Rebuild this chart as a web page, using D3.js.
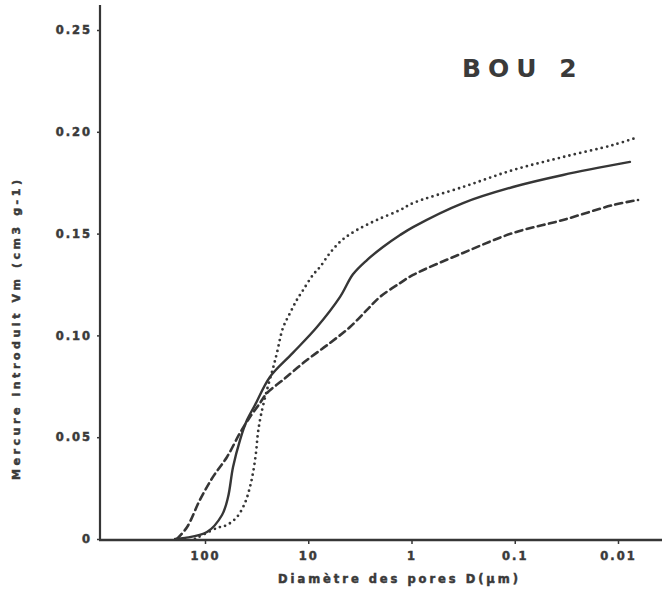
<!DOCTYPE html>
<html><head><meta charset="utf-8">
<script src="https://cdn.jsdelivr.net/npm/d3@7"></script>
<style>
html,body{margin:0;padding:0;background:#fff;}
svg{display:block;}
text{font-family:"DejaVu Sans",sans-serif;font-weight:bold;fill:#3a3a3a;}
</style></head>
<body>
<script>
// Diamètre des pores D (µm) and Mercure introduit Vm (cm3 g-1)
const solidD = [195,156,95.7,68.4,59.8,53.5,45.8,39.2,32.8,23.5,14.1,8.23,4.92,3.69,2.70,1.89,1.29,0.966,0.317,0.104,0.0341,0.00766];
const solidV = [0,0.0005,0.0034,0.0118,0.0206,0.0354,0.0486,0.0584,0.0658,0.0796,0.0914,0.1041,0.1189,0.1300,0.137,0.1434,0.1493,0.1532,0.165,0.1729,0.1788,0.1852];
const dottedD = [125,76.6,61.2,49.0,41.0,36.7,34.3,32.1,30.7,28.7,25.1,21.9,20.1,17.6,15.0,12.9,11.2,9.0,7.69,6.15,4.71,3.37,2.16,1.29,0.966,0.317,0.104,0.0341,0.0112,0.0064];
const dottedV = [0,0.0054,0.0069,0.0108,0.0177,0.0255,0.0324,0.0422,0.0521,0.0609,0.0732,0.084,0.0914,0.1036,0.111,0.1174,0.1223,0.1297,0.1336,0.1405,0.1468,0.1518,0.1567,0.1616,0.165,0.1729,0.1812,0.1876,0.1935,0.1974];
const dashedD = [187,149,112,83.7,61.2,45.8,36.7,29.3,25.1,17.6,10.3,6.15,3.94,2.70,2.02,1.29,0.966,0.317,0.104,0.0341,0.0112,0.0064];
const dashedV = [0,0.0059,0.0192,0.0305,0.0403,0.0521,0.0599,0.0668,0.0717,0.0781,0.0879,0.0963,0.1041,0.1125,0.1189,0.1257,0.1297,0.1405,0.1503,0.1567,0.164,0.1665];
const xTicks = [100,10,1,0.1,0.01];
const xTickLabels = ["100","10","1","0.1","0.01"];
const yTicks = [0,0.05,0.10,0.15,0.20,0.25];
const yTickLabels = ["0","0.05","0.10","0.15","0.20","0.25"];
const title = "BOU 2";
const xTitle = "Diamètre des pores D(µm)";
const yTitle = "Mercure introduit Vm (cm3 g-1)";

const W = 662, H = 591;
const svg = d3.select("body").append("svg").attr("width", W).attr("height", H);
const ink = "#363636";

const dec = 103.25;
const x = d3.scaleLog().domain([1000, 0.0036])
  .range([205 - dec, 205 + dec * (2 - Math.log10(0.0036))]);
const y = d3.scaleLinear().domain([0, 0.25]).range([539, 30]);

// axes lines
svg.append("line").attr("x1", 100).attr("x2", 100).attr("y1", 5).attr("y2", 540)
  .attr("stroke", ink).attr("stroke-width", 2.2);
svg.append("line").attr("x1", 99).attr("x2", 662).attr("y1", 540).attr("y2", 540)
  .attr("stroke", ink).attr("stroke-width", 2.4);

function styleText(sel, fs, ls) {
  sel.attr("font-size", fs).attr("letter-spacing", ls)
    .style("font-family", "DejaVu Sans").style("font-weight", "bold")
    .attr("fill", "#3a3a3a").attr("stroke", "#3a3a3a").attr("stroke-width", 0.5);
}

// x axis
const xAxis = d3.axisBottom(x).tickValues(xTicks).tickSize(4).tickPadding(8)
  .tickFormat((d, i) => xTickLabels[i]);
const gx = svg.append("g").attr("transform", "translate(0,540)").call(xAxis);
gx.select(".domain").remove();
gx.selectAll(".tick line").attr("stroke", ink).attr("stroke-width", 1.5);
styleText(gx.selectAll(".tick text"), 11.5, 2);

// y axis
const yAxis = d3.axisLeft(y).tickValues(yTicks).tickSize(3).tickPadding(5)
  .tickFormat((d, i) => yTickLabels[i]);
const gy = svg.append("g").attr("transform", "translate(100,0)").call(yAxis);
gy.select(".domain").remove();
gy.selectAll(".tick line").attr("stroke", ink).attr("stroke-width", 1.5);
styleText(gy.selectAll(".tick text"), 11.5, 2);

// titles
svg.append("text").attr("x", 462).attr("y", 77).attr("font-size", 25)
  .attr("letter-spacing", 7).text(title);
const xt = svg.append("text").attr("x", 278).attr("y", 583)
  .attr("textLength", 240).attr("lengthAdjust", "spacing").text(xTitle);
styleText(xt, 11.5, 0);
const yt = svg.append("text").attr("transform", "translate(20,480) rotate(-90)")
  .attr("textLength", 300).attr("lengthAdjust", "spacing").text(yTitle);
styleText(yt, 11, 0);

// curves
const line = d3.line().x(d => x(d[0])).y(d => y(d[1])).curve(d3.curveCatmullRom.alpha(0.5));
function draw(D, V, dash, w) {
  const pts = D.map((d, i) => [d, V[i]]);
  const p = svg.append("path").datum(pts).attr("d", line).attr("fill", "none")
    .attr("stroke", ink).attr("stroke-width", w).attr("stroke-linecap", "round");
  if (dash) p.attr("stroke-dasharray", dash);
}
draw(solidD, solidV, null, 2.4);
draw(dashedD, dashedV, "7 4.5", 2.6);
draw(dottedD, dottedV, "0 5.5", 2.8);
</script>
</body></html>
